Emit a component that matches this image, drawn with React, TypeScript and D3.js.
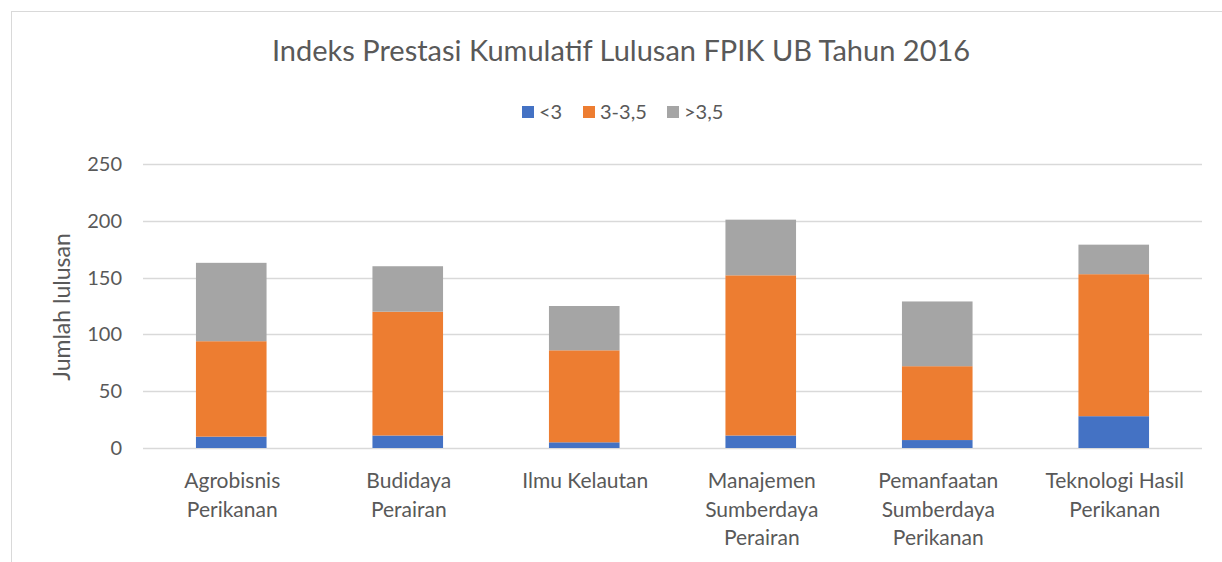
import React, { useEffect, useRef } from "react";
import * as d3 from "d3";

const categories = [
  ["Agrobisnis", "Perikanan"],
  ["Budidaya", "Perairan"],
  ["Ilmu Kelautan"],
  ["Manajemen", "Sumberdaya", "Perairan"],
  ["Pemanfaatan", "Sumberdaya", "Perikanan"],
  ["Teknologi Hasil", "Perikanan"],
];
const seriesNames = ["<3", "3-3,5", ">3,5"];
const below3 = [10, 11, 5, 11, 7, 28];
const between3and35 = [84, 109, 81, 141, 65, 125];
const above35 = [69, 40, 39, 49, 57, 26];
const yTicks = [0, 50, 100, 150, 200, 250];
const colors = ["#4472C4", "#ED7D31", "#A5A5A5"];

const FONT = "Lato, 'Open Sans', sans-serif";
const TEXT = "#595959";

function drawChart(element) {
  d3.select(element).selectAll("*").remove();

  const W = 1222;
  const H = 562;
  const margin = { top: 164, right: 20, bottom: 114, left: 143 };
  const width = W - margin.left - margin.right;
  const height = H - margin.top - margin.bottom;

  const rows = categories.map((c, i) => ({
    key: i,
    s0: below3[i],
    s1: between3and35[i],
    s2: above35[i],
  }));
  const stack = d3.stack().keys(["s0", "s1", "s2"])(rows);

  const x = d3
    .scaleBand()
    .domain(rows.map((d) => d.key))
    .range([0, width])
    .paddingInner(0.6)
    .paddingOuter(0.3);
  const y = d3.scaleLinear().domain([0, 250]).range([height, 0]);

  const svg = d3
    .select(element)
    .append("svg")
    .attr("width", W)
    .attr("height", H)
    .style("position", "absolute")
    .style("left", 0)
    .style("top", 0)
    .style("font-family", FONT);

  svg
    .append("rect")
    .attr("x", 11.5)
    .attr("y", 11.5)
    .attr("width", 1220)
    .attr("height", 560)
    .attr("fill", "#fff")
    .attr("stroke", "#d9d9d9")
    .attr("stroke-width", 1);

  svg
    .append("text")
    .attr("x", 621)
    .attr("y", 61)
    .attr("text-anchor", "middle")
    .attr("fill", TEXT)
    .style("font-size", "29px")
    .text("Indeks Prestasi Kumulatif Lulusan FPIK UB Tahun 2016");

  // legend
  const legendX = [522, 583, 667];
  const legend = svg.append("g");
  seriesNames.forEach((name, i) => {
    legend
      .append("rect")
      .attr("x", legendX[i])
      .attr("y", 106)
      .attr("width", 12)
      .attr("height", 12)
      .attr("fill", colors[i]);
    legend
      .append("text")
      .attr("x", legendX[i] + 17)
      .attr("y", 119)
      .attr("fill", TEXT)
      .style("font-size", "20px")
      .text(name);
  });

  const g = svg
    .append("g")
    .attr("transform", "translate(" + margin.left + "," + margin.top + ")");

  // gridlines + y labels
  g.selectAll(".grid")
    .data(yTicks)
    .join("line")
    .attr("x1", 0)
    .attr("x2", width)
    .attr("y1", (d) => Math.round(y(d)) + 0.5)
    .attr("y2", (d) => Math.round(y(d)) + 0.5)
    .attr("stroke", "#d9d9d9")
    .attr("stroke-width", 1.3);

  g.selectAll(".ylab")
    .data(yTicks)
    .join("text")
    .attr("x", -21)
    .attr("y", (d) => y(d))
    .attr("dy", "0.35em")
    .attr("text-anchor", "end")
    .attr("fill", TEXT)
    .style("font-size", "20px")
    .text((d) => d);

  svg
    .append("text")
    .attr("transform", "translate(70,307) rotate(-90)")
    .attr("text-anchor", "middle")
    .attr("fill", TEXT)
    .style("font-size", "23px")
    .text("Jumlah lulusan");

  // bars
  g.selectAll(".series")
    .data(stack)
    .join("g")
    .attr("fill", (d, i) => colors[i])
    .selectAll("rect")
    .data((d) => d)
    .join("rect")
    .attr("x", (d) => x(d.data.key))
    .attr("width", x.bandwidth())
    .attr("y", (d) => y(d[1]))
    .attr("height", (d) => y(d[0]) - y(d[1]));

  // x labels
  const xl = g
    .selectAll(".xlab")
    .data(categories)
    .join("text")
    .attr("text-anchor", "middle")
    .attr("fill", TEXT)
    .style("font-size", "21px")
    .attr("transform", (d, i) => "translate(" + (x(i) + x.bandwidth() / 2 + 1) + "," + (height + 40) + ")");
  xl.selectAll("tspan")
    .data((d) => d)
    .join("tspan")
    .attr("x", 0)
    .attr("y", (d, i) => i * 28.5)
    .text((d) => d);
}

export default function App() {
  const ref = useRef(null);
  useEffect(() => {
    drawChart(ref.current);
  }, []);
  return <div ref={ref}></div>;
}
